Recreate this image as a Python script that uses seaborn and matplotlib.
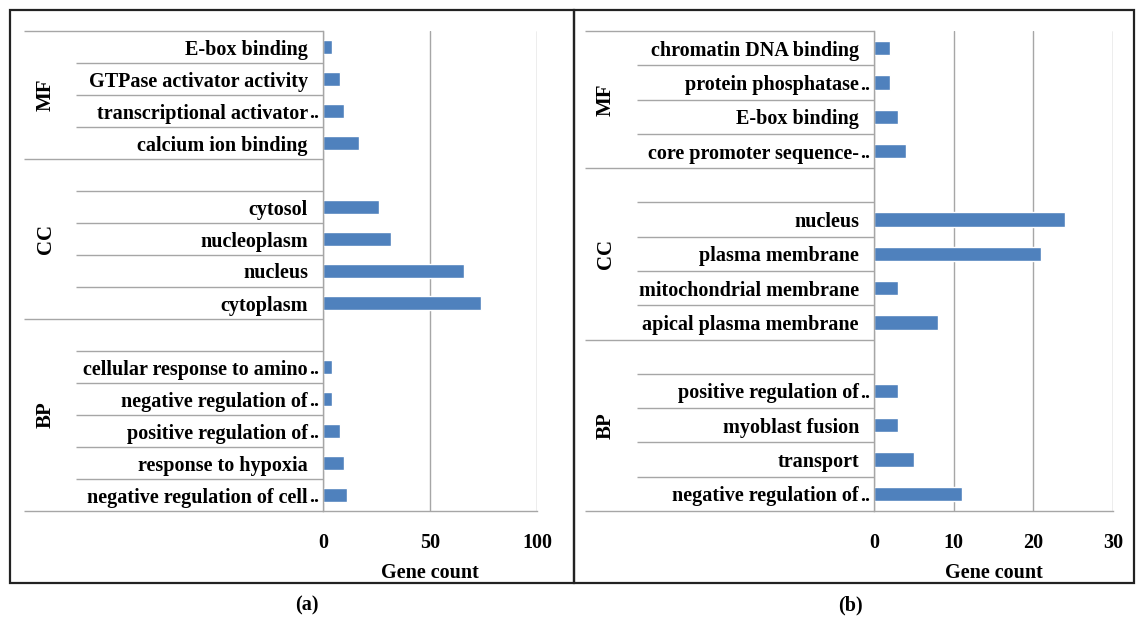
import matplotlib
matplotlib.use("Agg")
import matplotlib.pyplot as plt
from matplotlib.patches import Rectangle
import pandas as pd
import seaborn as sns

sns.set_style("white")
plt.rcParams["font.family"] = ["Liberation Serif", "DejaVu Serif"]
plt.rcParams["font.weight"] = "bold"
plt.rcParams["text.color"] = "black"
plt.rcParams["axes.labelcolor"] = "black"
plt.rcParams["xtick.labelcolor"] = "black"
plt.rcParams["ytick.labelcolor"] = "black"

# ---- data: panel (a) ----
a_groups = ["MF", "CC", "BP"]
a_mf_terms = ["E-box binding", "GTPase activator activity",
              "transcriptional activator..", "calcium ion binding"]
a_mf_counts = [4, 8, 10, 17]
a_cc_terms = ["cytosol", "nucleoplasm", "nucleus", "cytoplasm"]
a_cc_counts = [26, 32, 66, 74]
a_bp_terms = ["cellular response to amino..", "negative regulation of..",
              "positive regulation of..", "response to hypoxia",
              "negative regulation of cell.."]
a_bp_counts = [4, 4, 8, 10, 11]
a_ticks = [0, 50, 100]

# ---- data: panel (b) ----
b_groups = ["MF", "CC", "BP"]
b_mf_terms = ["chromatin DNA binding", "protein phosphatase..",
              "E-box binding", "core promoter sequence-.."]
b_mf_counts = [2, 2, 3, 4]
b_cc_terms = ["nucleus", "plasma membrane", "mitochondrial membrane",
              "apical plasma membrane"]
b_cc_counts = [24, 21, 3, 8]
b_bp_terms = ["positive regulation of..", "myoblast fusion", "transport",
              "negative regulation of.."]
b_bp_counts = [3, 3, 5, 11]
b_ticks = [0, 10, 20, 30]

BAR = "#4F81BD"
LINE = "#A6A6A6"
FONT_SIZE = 14.5
W, H = 1143, 619
fig = plt.figure(figsize=(W / 100, H / 100), dpi=100)


def build_rows(groups, term_lists, count_lists):
    """Rows top to bottom; a blank spacer row opens every group after the first."""
    rows, spans = [], []
    for gi, (g, terms, counts) in enumerate(zip(groups, term_lists, count_lists)):
        start = len(rows)
        if gi > 0:
            rows.append(dict(group=g, term=" " * gi, count=None))
        for t, c in zip(terms, counts):
            rows.append(dict(group=g, term=t, count=c))
        spans.append((g, start, len(rows) - 1))
    return rows, spans


def draw_panel(rect_px, groups, term_lists, count_lists, ticks,
               long_px, short_px, group_px):
    x0, y_top, x1, y_bot = rect_px
    ax = fig.add_axes([x0 / W, 1 - y_bot / H, (x1 - x0) / W, (y_bot - y_top) / H])
    ax_w = x1 - x0
    rows, spans = build_rows(groups, term_lists, count_lists)
    order = [r["term"] for r in rows]
    df = pd.DataFrame([r for r in rows if r["count"] is not None])
    sns.barplot(data=df, x="count", y="term", order=order, orient="h",
                color=BAR, width=0.42, saturation=1, ax=ax)
    n = len(order)
    ax.set_ylim(n - 0.5, -0.5)
    ax.set_xlim(ticks[0], ticks[-1])
    ax.set_xticks(ticks)
    ax.set_xticklabels([str(t) for t in ticks], fontsize=FONT_SIZE, fontweight="bold")
    ax.tick_params(axis="x", direction="out", length=5, width=1, color=LINE,
                   pad=11, labelcolor="black")
    ax.tick_params(axis="y", length=0, pad=10.8, labelcolor="black")
    ax.set_ylabel("")
    ax.set_xlabel("Gene count", fontsize=FONT_SIZE, fontweight="bold", labelpad=7)

    # category labels: main text aligned, trailing ".." hanging toward the axis
    main = []
    for t in order:
        main.append(t[:-2] if t.endswith("..") else t.strip())
    ax.set_yticks(range(n))
    ax.set_yticklabels(main, fontsize=FONT_SIZE, fontweight="bold")
    ytr = ax.get_yaxis_transform()
    for i, t in enumerate(order):
        if t.endswith(".."):
            ax.annotate("..", xy=(0, i), xycoords=ytr, xytext=(-10.0, 0),
                        textcoords="offset points", ha="left",
                        va="center_baseline", fontsize=FONT_SIZE,
                        fontweight="bold", annotation_clip=False)

    ax.grid(axis="x", color=LINE, lw=1)
    ax.grid(axis="y", visible=False)
    for s in ["top", "right"]:
        ax.spines[s].set_visible(False)
    for s in ["left", "bottom"]:
        ax.spines[s].set_color(LINE)
        ax.spines[s].set_linewidth(1)
    ax.set_axisbelow(True)

    # category separators of the multi-level axis
    group_edges = {-0.5}
    for g, s, e in spans:
        group_edges.add(e + 0.5)
    for k in range(n + 1):
        yb = k - 0.5
        start = -long_px / ax_w if yb in group_edges else -short_px / ax_w
        ax.plot([start, 0], [yb, yb], transform=ytr, color=LINE, lw=1,
                clip_on=False, solid_capstyle="butt")

    # group names
    for g, s, e in spans:
        ax.annotate(g, xy=(0, (s + e) / 2), xycoords=ytr,
                    xytext=(-group_px * 0.72, 0), textcoords="offset points",
                    rotation=90, ha="center", va="center",
                    fontsize=FONT_SIZE + 0.5, fontweight="bold",
                    annotation_clip=False)
    return ax


draw_panel((323, 31, 537, 511), a_groups,
           [a_mf_terms, a_cc_terms, a_bp_terms],
           [a_mf_counts, a_cc_counts, a_bp_counts], a_ticks,
           long_px=299, short_px=247, group_px=277)
draw_panel((874, 31, 1113, 511), b_groups,
           [b_mf_terms, b_cc_terms, b_bp_terms],
           [b_mf_counts, b_cc_counts, b_bp_counts], b_ticks,
           long_px=289, short_px=237, group_px=268)

# panel frames
for (l, r) in [(10, 574), (574, 1134)]:
    fig.patches.append(Rectangle((l / W, 1 - 583 / H), (r - l) / W, (583 - 10) / H,
                                 transform=fig.transFigure, fill=False,
                                 edgecolor="#222222", lw=1.6))

fig.text(307 / W, 1 - 605 / H, "(a)", ha="center", va="center",
         fontsize=FONT_SIZE, fontweight="bold")
fig.text(850 / W, 1 - 605 / H, "(b)", ha="center", va="center",
         fontsize=FONT_SIZE, fontweight="bold")

fig.savefig("out.png", dpi=100)
